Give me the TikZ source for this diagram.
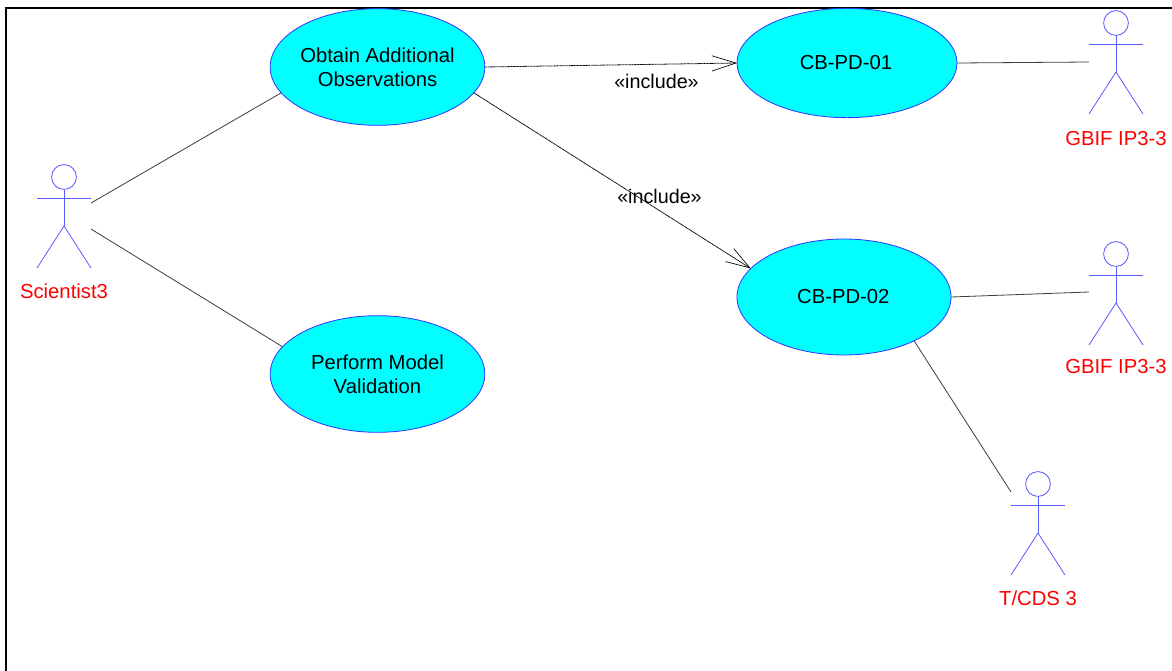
\documentclass[tikz,border=0pt]{standalone}
\usepackage{fontspec}
\setmainfont{Liberation Sans}
\usetikzlibrary{arrows.meta,shapes.geometric}
\definecolor{ucfill}{RGB}{0,255,255}
\definecolor{ucline}{RGB}{50,50,255}
\definecolor{actline}{RGB}{90,90,255}
\definecolor{conline}{RGB}{60,60,60}
\tikzset{
  usecase/.style={ellipse,draw=ucline,fill=ucfill,line width=.6pt,inner xsep=-4pt,inner ysep=0pt,outer sep=0pt,align=center,
    font=\fontsize{15.2}{18}\selectfont,text=black},
  actorpart/.style={draw=actline,line width=.6pt},
  actorname/.style={text=red,font=\fontsize{15.2}{18}\selectfont,inner sep=0pt,anchor=center},
  assoc/.style={draw=conline,line width=.6pt},
  incl/.style={draw=black,line width=.6pt,dash pattern=on .8pt off .35pt,-{Straight Barb[length=18pt,width=11.5pt,line width=.5pt]}},
  incltext/.style={font=\fontsize{14.8}{18}\selectfont,text=black,inner sep=0pt,anchor=center},
  frameedge/.style={draw=black,line width=1.6pt},
}
\newcommand{\stickman}[5]{% name, x, head y, name y, text
  \node[draw=none,minimum width=40.5pt,minimum height=1pt,inner sep=0pt] (#1) at (#2,#3+21) {};
  \draw[actorpart] (#2,#3) circle[radius=9.3pt];
  \draw[actorpart] (#2,#3+12.5) -- (#2,#3+49);
  \draw[actorpart] (#2-27,#3+21) -- (#2+27,#3+21);
  \draw[actorpart] (#2-27,#3+91) -- (#2,#3+49) -- (#2+27,#3+91);
  \node[actorname] (#1name) at (#2,#4) {#5};
}
\begin{document}
\begin{tikzpicture}[x=.75pt,y=-.75pt]
\useasboundingbox (0,0) rectangle (1172,671);
\fill[white] (0,0) rectangle (1172,671);
\coordinate (tl) at (6,8);
\coordinate (tr) at (1172,8);
\coordinate (bl) at (6,671);
\draw[frameedge] (tr) -- (tl) -- (bl);

\node[usecase,minimum width=161pt,minimum height=87.5pt] (obtain) at (377.5,67) {Obtain Additional\\Observations};
\node[usecase,minimum width=161pt,minimum height=87.5pt] (perform) at (377.5,374) {Perform Model\\Validation};
\node[usecase,minimum width=165pt,minimum height=82pt] (pd1) at (847,63) {CB-PD-01\kern1.5pt};
\node[usecase,minimum width=160.5pt,minimum height=87pt] (pd2) at (844,297) {CB-PD-02\kern1pt};

\stickman{sci}{64}{177}{291}{Scientist3}
\stickman{gbifa}{1116}{23}{139}{GBIF IP3-3}
\stickman{gbifb}{1116}{254}{367}{GBIF IP3-3}
\stickman{tcds}{1038}{484}{598}{T/CDS 3}

\coordinate (sciup) at (91,203);
\coordinate (scidown) at (91,229);
\coordinate (gbifaend) at (1089,62);
\coordinate (gbifbend) at (1089,292);
\coordinate (tcdsend) at (1011,492);

\draw[assoc] (sciup) -- (obtain.195);
\draw[assoc] (scidown) -- (perform.164.4);
\draw[assoc] (pd1.0) -- (gbifaend);
\draw[assoc] (pd2.0) -- (gbifbend);
\draw[assoc] (pd2.-32.5) -- (tcdsend);
\draw[incl] (obtain.0) -- (pd1.180);
\draw[incl] (obtain.-15.9) -- (pd2.163.2);

\node[incltext] (inc1) at (656.5,81) {«include»};
\node[incltext] (inc2) at (659.5,196) {«include»};
\end{tikzpicture}
\end{document}
